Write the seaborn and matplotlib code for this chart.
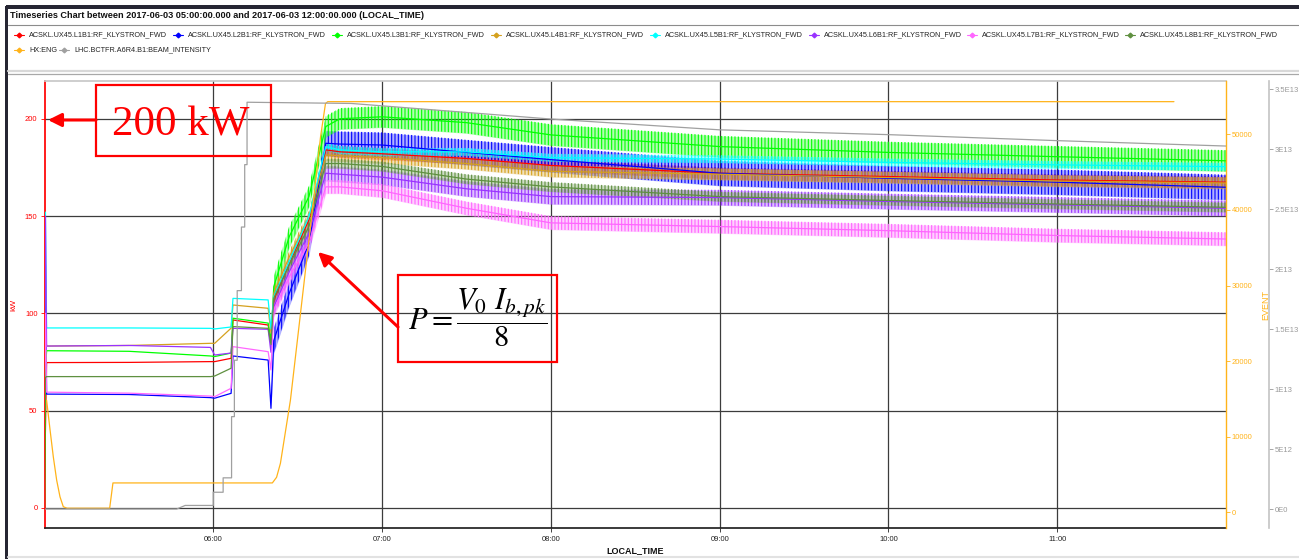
import matplotlib
matplotlib.use('Agg')
import numpy as np
import pandas as pd
import matplotlib.pyplot as plt
import matplotlib.dates as mdates
import seaborn as sns
from matplotlib import font_manager
from matplotlib.patches import Rectangle
from matplotlib.lines import Line2D

W, H = 1299, 559
DAY = '2017-06-03 '

# ---- data ----
kw_times = ["05:00:00", "05:00:20", "05:00:45", "05:30:00", "05:59:00", "06:00:30",
            "06:06:20", "06:07:00", "06:19:30", "06:20:30", "06:21:30", "06:27:00",
            "06:34:00", "06:40:00", "06:45:00", "07:00:00", "07:30:00", "08:00:00",
            "09:00:00", "10:00:00", "11:00:00", "12:00:00"]
l1b1 = [15, 40, 74.7, 74.8, 75.2, 75.2, 76.9, 96.6, 94.0, 85, 106.9, 125.7,
        148, 184, 183, 182, 179.6, 176, 172, 170.3, 168.5, 167.4]
l2b1 = [60, 125, 58.5, 58.3, 56.7, 56.4, 58.9, 78.1, 76.0, 51.2, 86, 110.3,
        136, 187.4, 187, 186.5, 182.7, 179, 172, 169.4, 167.4, 164.8]
l3b1 = [0, 70, 80.8, 80.5, 78.1, 77.8, 79.6, 97.5, 95.0, 86, 113.7, 139.4,
        160, 196, 200, 201, 198, 191.7, 185.7, 182.7, 180.5, 178.4]
l4b1 = [80, 90, 83.2, 83.5, 84.6, 84.6, 92.4, 104.3, 102.6, 90, 110.4, 129,
        149.7, 181.4, 181, 180, 177, 173, 171.5, 169.8, 168, 167]
l5b1 = [92, 152, 92.5, 92.5, 92.3, 92.0, 93.0, 107.7, 106.9, 92, 108.6, 126.6,
        149.7, 185.7, 184, 183, 183, 180, 179.3, 177.6, 176.3, 175.4]
l6b1 = [83, 150, 83.2, 83.5, 82.5, 78.6, 79.6, 92.3, 91.8, 80, 103.4, 121.4,
        141.2, 172, 171.5, 170, 164, 160, 159.5, 157.5, 155.8, 154]
l7b1 = [59, 100, 59.5, 59, 57.5, 57.2, 61.5, 82.9, 80.3, 70.9, 101.7, 118.8,
        136, 165, 165, 163, 154, 146.5, 144.6, 142.5, 140, 138.2]
l8b1 = [45, 67, 67.5, 67.5, 67.5, 67.8, 71.8, 93.2, 92.3, 84, 107.8, 124.9,
        144.6, 177, 177, 175.5, 169, 165, 160, 158, 156.2, 154.5]
# half height of the fast ripple once the ramp starts (kW)
ripple = [3, 6.5, 5.5, 3, 2, 4, 3.5, 2.5]
ripple_from = "06:21:30"

hx_times = ["05:00:45", "05:01:58", "05:03:08", "05:04:20", "05:05:31", "05:06:41",
            "05:08:00", "05:23:10", "05:24:20", "06:21:00", "06:22:30", "06:23:52",
            "06:27:25", "06:31:00", "06:34:34", "06:38:08", "06:39:53", "06:40:42",
            "11:41:30"]
hx_eng = [14800, 10900, 7300, 4200, 2000, 700, 500, 500, 3850, 3850, 4600, 6450,
          14800, 26300, 37800, 49700, 54100, 54350, 54350]

lhc_times = ["05:00:00", "05:47:00", "05:50:00", "06:00:00", "06:00:00", "06:03:30",
             "06:03:30", "06:06:30", "06:06:30", "06:07:30", "06:07:30", "06:08:30",
             "06:08:30", "06:10:00", "06:10:00", "06:11:10", "06:11:10", "06:12:00",
             "06:12:00", "06:49:00", "07:00:00", "08:00:00", "09:00:00", "10:00:00",
             "11:00:00", "12:00:00"]
lhc_intensity = [0, 0, 0.3e12, 0.3e12, 1.4e12, 1.4e12, 2.6e12, 2.6e12, 7.7e12, 7.7e12,
                 12.4e12, 12.4e12, 18.2e12, 18.2e12, 23.5e12, 23.5e12, 28.7e12, 28.7e12,
                 33.9e12, 33.8e12, 33.6e12, 32.5e12, 31.6e12, 31.2e12, 30.7e12, 30.25e12]

names = ["ACSKL.UX45.L1B1:RF_KLYSTRON_FWD", "ACSKL.UX45.L2B1:RF_KLYSTRON_FWD",
         "ACSKL.UX45.L3B1:RF_KLYSTRON_FWD", "ACSKL.UX45.L4B1:RF_KLYSTRON_FWD",
         "ACSKL.UX45.L5B1:RF_KLYSTRON_FWD", "ACSKL.UX45.L6B1:RF_KLYSTRON_FWD",
         "ACSKL.UX45.L7B1:RF_KLYSTRON_FWD", "ACSKL.UX45.L8B1:RF_KLYSTRON_FWD"]
colors = ["#ff0000", "#0000ff", "#00ff00", "#d5a11e", "#00ffff", "#9933ff", "#ff66ff", "#5f9040"]
hx_name, hx_color = "HX:ENG", "#ffb31a"
lhc_name, lhc_color = "LHC.BCTFR.A6R4.B1:BEAM_INTENSITY", "#a0a0a0"

event_ticks = [0, 10000, 20000, 30000, 40000, 50000]
beam_ticks = [0, 5e12, 1e13, 1.5e13, 2e13, 2.5e13, 3e13, 3.5e13]
beam_labels = ["0E0", "5E12", "1E13", "1.5E13", "2E13", "2.5E13", "3E13", "3.5E13"]


def pick_font(cands):
    have = {f.name for f in font_manager.fontManager.ttflist}
    for c in cands:
        if c in have:
            return c
    return 'DejaVu Sans'


def ts(lst):
    return pd.to_datetime([DAY + t for t in lst])


def fx(x):
    return x / W


def fy(y):
    return 1 - y / H


sns.set_theme(style='white')
narrow = pick_font(['Liberation Sans Narrow', 'Liberation Sans', 'DejaVu Sans'])
serif = pick_font(['Liberation Serif', 'DejaVu Serif'])
plt.rcParams['font.family'] = [narrow, 'DejaVu Sans']
plt.rcParams['hatch.linewidth'] = 0.8

# long table for seaborn
series = [l1b1, l2b1, l3b1, l4b1, l5b1, l6b1, l7b1, l8b1]
t_kw = ts(kw_times)
df = pd.concat([pd.DataFrame({'time': t_kw, 'kW': vals, 'signal': n})
                for n, vals in zip(names, series)], ignore_index=True)

fig = plt.figure(figsize=(W / 100, H / 100), dpi=100)
ax = fig.add_axes([fx(44.5), fy(528), (1226 - 44.5) / W, (528 - 81) / H])

# ripple bands (hatched to look like the fast oscillation), then centre lines
on = t_kw >= pd.Timestamp(DAY + ripple_from)
for vals, r, c in zip(series, ripple, colors):
    v = np.array(vals, dtype=float)
    amp = np.where(on, r, 0.0)
    ax.fill_between(t_kw, v - amp, v + amp, facecolor=c, alpha=0.3, lw=0, zorder=2)
    ax.fill_between(t_kw, v - amp, v + amp, facecolor='none', edgecolor=c,
                    hatch='|||||', lw=0, zorder=2)
sns.lineplot(data=df, x='time', y='kW', hue='signal', hue_order=names,
             palette=dict(zip(names, colors)), estimator=None, sort=False,
             legend=False, lw=0.9, ax=ax, zorder=3)

ax.set_xlim(pd.Timestamp(DAY + '05:00'), pd.Timestamp(DAY + '12:00'))
ax.set_ylim(-10.3, 219.4)
ax.set_yticks([0, 50, 100, 150, 200])
ax.xaxis.set_major_locator(mdates.HourLocator(byhour=range(6, 12)))
ax.xaxis.set_major_formatter(mdates.DateFormatter('%H:%M'))
ax.grid(True, color='#3c3c3c', lw=0.9)
ax.set_axisbelow(True)
ax.tick_params(axis='y', colors='red', labelsize=5.5, length=3, width=0.6, pad=2, left=True)
ax.tick_params(axis='x', colors='#222222', labelsize=5.5, length=3, width=0.6, pad=3, bottom=True)
ax.set_xlabel('LOCAL_TIME', fontsize=6.5, fontweight='bold', color='#111111')
ax.xaxis.set_label_coords(0.5, -0.041)
ax.set_ylabel('kW', fontsize=6, color='red')
ax.yaxis.set_label_coords(-0.023, 0.5)
for s in ['left', 'right', 'top', 'bottom']:
    ax.spines[s].set_visible(True)
ax.spines['left'].set_color('red')
ax.spines['bottom'].set_color('#222222')
ax.spines['top'].set_color('#c8c8c8')
ax.spines['right'].set_visible(False)

# EVENT axis (orange)
ax2 = ax.twinx()
sns.lineplot(x=ts(hx_times), y=hx_eng, color=hx_color, lw=0.9, estimator=None,
             sort=False, ax=ax2)
ax2.set_ylim(-2119, 57086)
ax2.set_yticks(event_ticks)
ax2.set_yticklabels([str(v) for v in event_ticks])
ax2.tick_params(axis='y', colors=hx_color, labelsize=5.5, length=3, width=0.6, pad=1, right=True)
ax2.set_ylabel('EVENT', fontsize=6.5, color=hx_color)
ax2.yaxis.set_label_coords(1.0296, 0.5)
for s in ['left', 'top', 'bottom']:
    ax2.spines[s].set_visible(False)
ax2.spines['right'].set_color(hx_color)
ax2.spines['right'].set_linewidth(1.0)
ax2.grid(False)

# beam intensity axis (grey)
ax3 = ax.twinx()
sns.lineplot(x=ts(lhc_times), y=lhc_intensity, color=lhc_color, lw=0.9, estimator=None,
             sort=False, ax=ax3)
ax3.set_ylim(-1.58e12, 3.567e13)
ax3.set_yticks(beam_ticks)
ax3.set_yticklabels(beam_labels)
ax3.spines['right'].set_position(('axes', 1.0364))
ax3.tick_params(axis='y', colors='#9a9a9a', labelsize=5.5, length=3, width=0.6, pad=1, right=True)
ax3.set_ylabel('')
for s in ['left', 'top', 'bottom']:
    ax3.spines[s].set_visible(False)
ax3.spines['right'].set_color('#c4c4c4')
ax3.spines['right'].set_linewidth(1.2)
ax3.grid(False)
for a in (ax2, ax3):
    a.set_xlabel('')

# ---- window frame, title and legend panel ----
dark = '#262633'
fig.add_artist(Rectangle((fx(6), fy(8.5)), 1 - fx(6), 3 / H, transform=fig.transFigure,
                         color=dark, lw=0))
fig.add_artist(Rectangle((fx(5.5), 0), 2.5 / W, fy(6), transform=fig.transFigure,
                         color=dark, lw=0))
fig.add_artist(Line2D([fx(8), 1], [fy(24.5), fy(24.5)], transform=fig.transFigure,
                      color='#8c8c8c', lw=0.8))
fig.add_artist(Line2D([fx(8), 1], [fy(71), fy(71)], transform=fig.transFigure,
                      color='#d8d8d8', lw=1.6))
fig.add_artist(Line2D([fx(8), 1], [fy(73.5), fy(73.5)], transform=fig.transFigure,
                      color='#a8a8a8', lw=0.9))
fig.add_artist(Line2D([fx(8), 1], [fy(556.5), fy(556.5)], transform=fig.transFigure,
                      color='#e2e2e2', lw=1.5))

fig.text(fx(10), fy(15.5), "Timeseries Chart between 2017-06-03 05:00:00.000 and "
         "2017-06-03 12:00:00.000 (LOCAL_TIME)", fontsize=6.6, fontweight='bold',
         va='center', ha='left', color='#111111')

legend_rows = [(35, list(zip(names, colors)),
                [19, 178, 337, 496, 655, 814, 972, 1130]),
               (50, [(hx_name, hx_color), (lhc_name, lhc_color)], [19, 64])]
for ly, items, xs in legend_rows:
    for (lab, c), lx in zip(items, xs):
        fig.add_artist(Line2D([fx(lx - 5), fx(lx), fx(lx + 5)], [fy(ly)] * 3,
                              transform=fig.transFigure, color=c, lw=0.8,
                              marker='D', markersize=2.4, markevery=[1]))
        fig.text(fx(lx + 10), fy(ly), lab, fontsize=5.2, va='center', ha='left',
                 color='#222222')

# ---- annotations ----
fig.add_artist(Rectangle((fx(96), fy(156)), 175 / W, 71 / H, transform=fig.transFigure,
                         fill=False, ec='red', lw=1.6))
fig.text(fx(181), fy(136), "200 kW", family=serif, fontsize=31, color='red',
         ha='center', va='baseline')
ax.annotate('', xy=(48, H - 120), xycoords='figure pixels',
            xytext=(96, H - 120), textcoords='figure pixels',
            arrowprops=dict(arrowstyle='-|>', color='red', lw=2.2, mutation_scale=20,
                            shrinkA=0, shrinkB=0))

fig.add_artist(Rectangle((fx(398), fy(362)), 159 / W, 87 / H, transform=fig.transFigure,
                         fill=False, ec='red', lw=1.6))
fig.text(fx(478), fy(318), r'$P=\dfrac{V_0\ I_{b,pk}}{8}$', fontsize=22,
         math_fontfamily='stix', color='black', ha='center', va='center')
ax.annotate('', xy=(318, H - 252), xycoords='figure pixels',
            xytext=(398, H - 327), textcoords='figure pixels',
            arrowprops=dict(arrowstyle='-|>', color='red', lw=2.2, mutation_scale=20,
                            shrinkA=0, shrinkB=0))

fig.savefig('out.png', dpi=100, facecolor='white')
